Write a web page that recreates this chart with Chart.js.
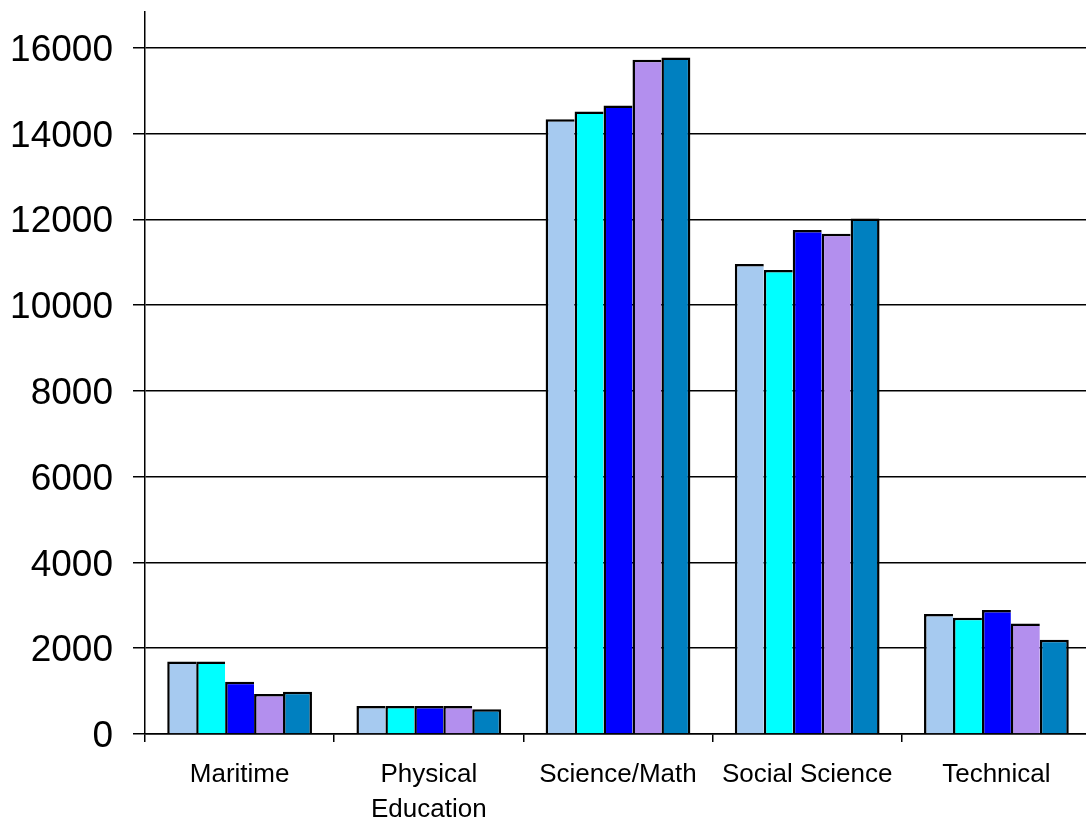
<!DOCTYPE html>
<html>
<head>
<meta charset="utf-8">
<script src="https://cdn.jsdelivr.net/npm/chart.js@4"></script>
<style>
html, body { margin: 0; padding: 0; overflow: hidden; background: #fff; }
#wrap { width: 1091px; height: 821px; position: relative; }
</style>
</head>
<body>
<div id="wrap"><canvas id="c"></canvas></div>
<script>
const categories = ["Maritime", ["Physical", "Education"], "Science/Math", "Social Science", "Technical"];
const seriesNames = ["Series 1", "Series 2", "Series 3", "Series 4", "Series 5"];
const series1 = [1690, 655, 14330, 10960, 2800];
const series2 = [1690, 655, 14510, 10820, 2710];
const series3 = [1220, 655, 14650, 11750, 2890];
const series4 = [935, 655, 15720, 11660, 2575];
const series5 = [985, 575, 15770, 12020, 2195];
const colors = ["#A6CAF0", "#00FFFF", "#0000FF", "#B38FEE", "#0080C0"];
const yTicks = [0, 2000, 4000, 6000, 8000, 10000, 12000, 14000, 16000];
const yMax = 16832;

const allSeries = [series1, series2, series3, series4, series5];
const bw = 2.5;
const datasets = allSeries.map((d, i) => ({
  label: seriesNames[i],
  data: d,
  backgroundColor: colors[i],
  borderColor: "#000",
  borderWidth: i === allSeries.length - 1 ? {left: bw, top: bw, right: bw, bottom: 0} : {left: bw, top: bw, right: 0, bottom: 0},
  borderSkipped: false,
  barPercentage: 1.0,
  categoryPercentage: 0.765
}));

new Chart(document.getElementById("c"), {
  type: "bar",
  data: { labels: categories, datasets: datasets },
  options: {
    responsive: true,
    maintainAspectRatio: false,
    animation: false,
    devicePixelRatio: 1,
    layout: { padding: { top: 12, left: 0, right: 0, bottom: 0 } },
    plugins: { legend: { display: false }, tooltip: { enabled: false } },
    scales: {
      x: {
        grid: { display: true, drawOnChartArea: false, drawTicks: true, tickLength: 8, color: "#000", lineWidth: 1.5, offset: true },
        border: { display: true, color: "#000", width: 1.5 },
        ticks: {
          color: "#000",
          font: { family: "'Liberation Sans', Arial, sans-serif", size: 26, lineHeight: 1.35 },
          padding: 15,
          maxRotation: 0,
          autoSkip: false
        },
        afterFit: (s) => { s.height = 87; s.paddingLeft = 0; s.paddingRight = 0; }
      },
      y: {
        min: 0,
        max: yMax,
        afterBuildTicks: (s) => { s.ticks = yTicks.map(v => ({ value: v })); },
        grid: { display: true, drawOnChartArea: true, drawTicks: true, tickLength: 12, color: "#000", lineWidth: 1.5 },
        border: { display: true, color: "#000", width: 1.5 },
        ticks: {
          color: "#000",
          font: { family: "'Liberation Sans', Arial, sans-serif", size: 37 },
          padding: 20,
          labelOffset: 3,
          callback: (v) => String(v)
        },
        afterFit: (s) => { s.width = 145; s.paddingTop = 0; s.paddingBottom = 0; }
      }
    }
  }
});
</script>
</body>
</html>
